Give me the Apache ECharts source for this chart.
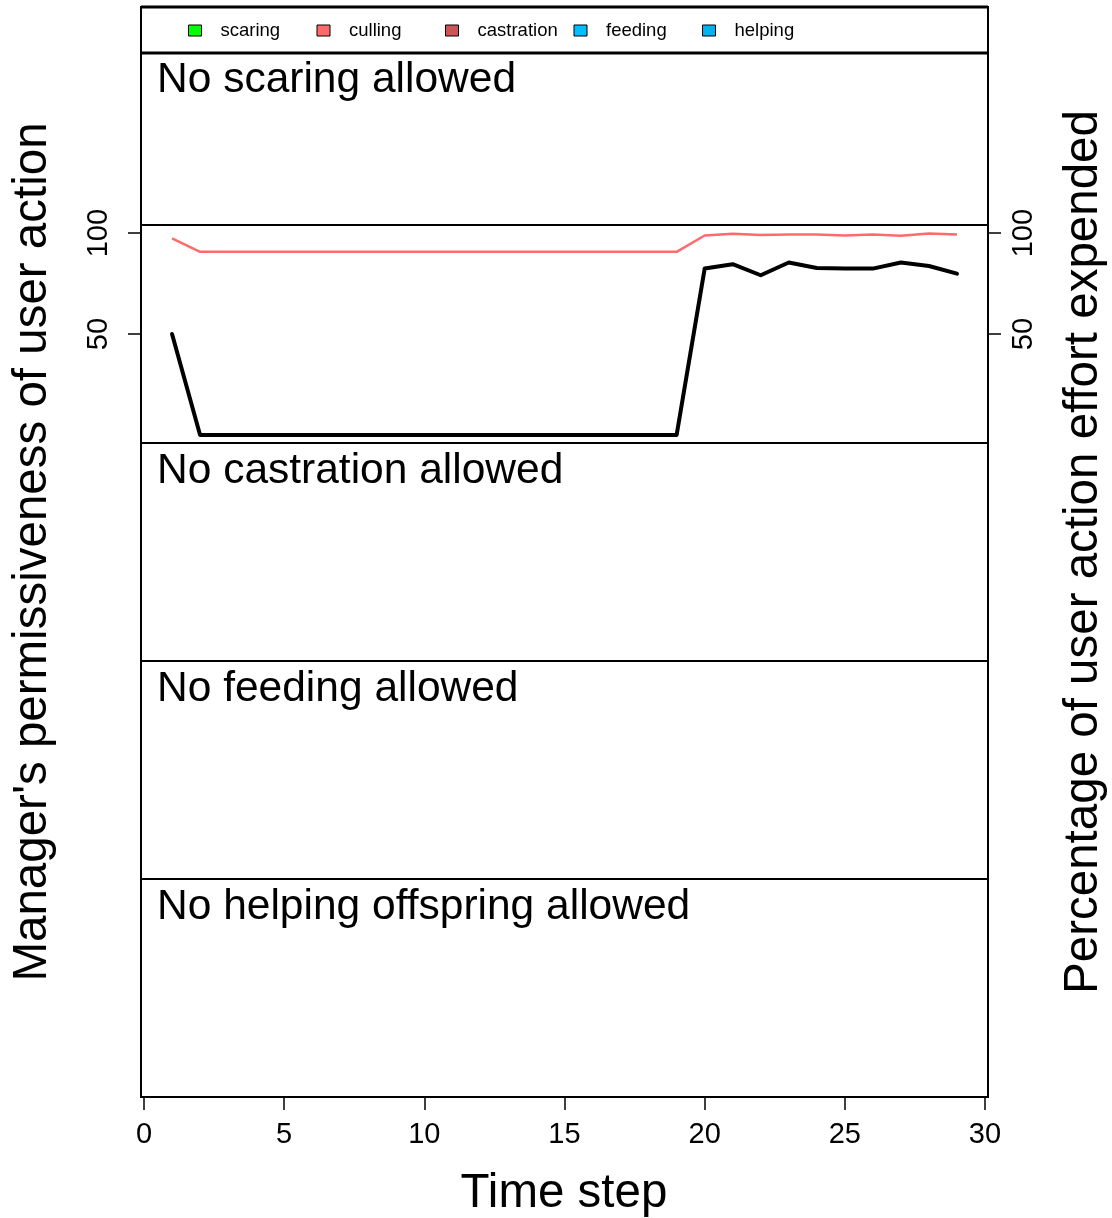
<!DOCTYPE html>
<html>
<head>
<meta charset="utf-8">
<script src="https://cdn.jsdelivr.net/npm/echarts@6/dist/echarts.min.js"></script>
<style>
html,body{margin:0;padding:0;background:#fff;}
#chart{width:1112px;height:1218px;}
</style>
</head>
<body>
<div id="chart"></div>
<script>
// ---- data ----
const timeSteps = [1,2,3,4,5,6,7,8,9,10,11,12,13,14,15,16,17,18,19,20,21,22,23,24,25,26,27,28,29];
const managerPermissiveness = [50,0,0,0,0,0,0,0,0,0,0,0,0,0,0,0,0,0,0,82.4,84.6,79.1,85.4,82.7,82.4,82.4,85.4,83.7,79.9];
const cullingEffort = [97.4,90.7,90.7,90.7,90.7,90.7,90.7,90.7,90.7,90.7,90.7,90.7,90.7,90.7,90.7,90.7,90.7,90.7,90.7,98.8,99.7,99.0,99.3,99.3,98.8,99.3,98.7,99.8,99.3];
const actionNames = ['scaring','culling','castration','feeding','helping'];
const actionColors = ['#00FF00','#FF6A6A','#CD5555','#00BFFF','#00B2EE'];
const panelTitles = ['No scaring allowed','','No castration allowed','No feeding allowed','No helping offspring allowed'];
const xTicks = [0,5,10,15,20,25,30];
const yTicks = [50,100];
const leftTitle = "Manager's permissiveness of user action";
const rightTitle = 'Percentage of user action effort expended';
const xTitle = 'Time step';

// ---- layout ----
const FONT = '"Liberation Sans", Arial, Helvetica, sans-serif';
const L = 141, W = 847, PH = 218;
const panelTops = [7, 225, 443, 661, 879];
const titleTops = [59, 0, 450, 668, 886];
const XMIN = -0.107, XMAX = 30.107;

const grids = panelTops.map(t => ({left: L, top: t, width: W, height: PH, show: true, borderColor: '#000', borderWidth: 2, backgroundColor: 'transparent'}));

const xAxes = panelTops.map((t, i) => {
  const last = i === panelTops.length - 1;
  return {
    type: 'value', gridIndex: i, min: XMIN, max: XMAX,
    show: last,
    splitLine: {show: false},
    axisLine: {show: last, onZero: false, lineStyle: {color: '#000', width: 2}},
    axisTick: {show: last, customValues: xTicks, length: 13, inside: false, lineStyle: {color: '#000', width: 1.5}},
    axisLabel: {show: last, customValues: xTicks, fontSize: 29, margin: 23, color: '#000', fontFamily: FONT}
  };
});

const yAxes = [];
panelTops.forEach((t, i) => {
  if (i === 1) {
    ['left', 'right'].forEach(pos => {
      yAxes.push({
        type: 'value', gridIndex: i, min: -4, max: 104, position: pos,
        splitLine: {show: false},
        axisLine: {show: true, onZero: false, lineStyle: {color: '#000', width: 2}},
        axisTick: {show: true, customValues: yTicks, length: 13, lineStyle: {color: '#000', width: 1.5}},
        axisLabel: {show: true, customValues: yTicks, rotate: 90, fontSize: 29, margin: pos === 'left' ? 28 : 21, color: '#000', fontFamily: FONT}
      });
    });
  } else {
    yAxes.push({type: 'value', gridIndex: i, min: 0, max: 100, show: false, splitLine: {show: false}});
  }
});

const series = actionNames.map((name, k) => ({
  name: name,
  type: 'line',
  xAxisIndex: 1, yAxisIndex: 1,
  symbol: 'none',
  color: actionColors[k],
  lineStyle: {color: actionColors[k], width: 2.5},
  data: name === 'culling' ? timeSteps.map((t, j) => [t, cullingEffort[j]]) : [],
  z: 3
}));
series.push({
  name: 'manager',
  type: 'line',
  xAxisIndex: 1, yAxisIndex: 1,
  symbol: 'none',
  color: '#000',
  lineStyle: {color: '#000', width: 4, cap: 'round', join: 'round'},
  data: timeSteps.map((t, j) => [t, managerPermissiveness[j]]),
  z: 4
});

const legendLefts = [188, 316.5, 445, 573.5, 702];
const legends = actionNames.map((name, k) => ({
  data: [name],
  left: legendLefts[k], top: 21,
  padding: 0,
  icon: 'rect',
  itemWidth: 13, itemHeight: 11,
  itemStyle: {borderColor: '#000', borderWidth: 1},
  selectedMode: false,
  textStyle: {fontSize: 18.5, color: '#000', fontFamily: FONT, padding: [0, 0, 0, 14]}
}));

const titles = panelTitles.map((txt, i) => ({
  text: txt, left: 157, top: titleTops[i], padding: 0,
  textStyle: {fontSize: 42.5, fontWeight: 'normal', color: '#000', fontFamily: FONT}
})).filter(t => t.text);

const chart = echarts.init(document.getElementById('chart'), null, {renderer: 'canvas'});
chart.setOption({
  backgroundColor: '#fff',
  animation: false,
  title: titles,
  legend: legends,
  grid: grids,
  xAxis: xAxes,
  yAxis: yAxes,
  series: series,
  graphic: [
    {type: 'rect', shape: {x: L, y: 7, width: W, height: 46}, style: {fill: '#fff', stroke: '#000', lineWidth: 2}, z: -1, silent: true},
    {type: 'line', shape: {x1: L, y1: 53, x2: L + W, y2: 53}, style: {stroke: '#000', lineWidth: 3}, z: 10, silent: true},
    {type: 'line', shape: {x1: L, y1: 7, x2: L + W, y2: 7}, style: {stroke: '#000', lineWidth: 3}, z: 10, silent: true},
    {type: 'text', x: 33, y: 552, rotation: Math.PI / 2, style: {text: leftTitle, font: '47.5px ' + FONT, fill: '#000', align: 'center', verticalAlign: 'middle'}},
    {type: 'text', x: 1084, y: 552, rotation: Math.PI / 2, style: {text: rightTitle, font: '47.5px ' + FONT, fill: '#000', align: 'center', verticalAlign: 'middle'}},
    {type: 'text', x: 564, y: 1194, style: {text: xTitle, font: '47.5px ' + FONT, fill: '#000', align: 'center', verticalAlign: 'middle'}}
  ]
});
</script>
</body>
</html>
